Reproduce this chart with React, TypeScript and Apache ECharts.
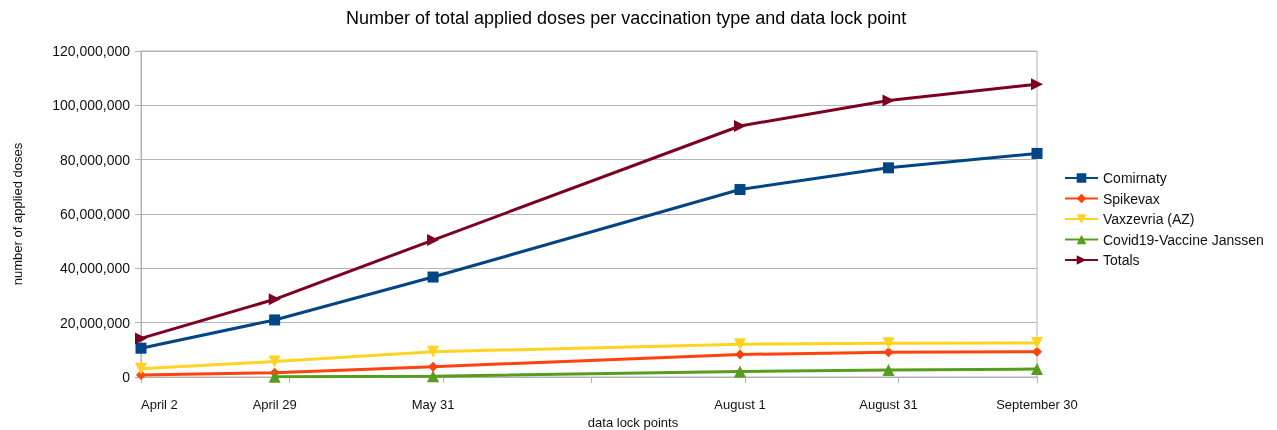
import React, { useEffect, useRef } from "react";
import * as echarts from "echarts";

const dates = ["2021-04-02", "2021-04-29", "2021-05-31", "2021-08-01", "2021-08-31", "2021-09-30"];
const dateLabels = ["April 2", "April 29", "May 31", "August 1", "August 31", "September 30"];
const tickDates = ["2021-04-02", "2021-05-02", "2021-06-02", "2021-07-02", "2021-08-02", "2021-09-02", "2021-09-30"];

const comirnaty = [10600000, 21000000, 36800000, 69000000, 77000000, 82300000];
const spikevax = [700000, 1600000, 3800000, 8300000, 9100000, 9300000];
const vaxzevria = [3000000, 5700000, 9300000, 12100000, 12400000, 12500000];
const janssen = [null, 50000, 300000, 2000000, 2600000, 2900000];
const totals = [14200000, 28600000, 50400000, 92400000, 101800000, 107800000];

const yTicks = [0, 20000000, 40000000, 60000000, 80000000, 100000000, 120000000];

const DAY = 86400000;
const t0 = Date.parse(dates[0]);
const dayOf = (d: string) => Math.round((Date.parse(d) - t0) / DAY);
const xDays = dates.map(dayOf);
const tickDays = tickDates.map(dayOf);

const pairs = (vals: (number | null)[]) =>
  vals.map((v, i) => (v == null ? null : [xDays[i], v])).filter((p) => p !== null);

const FONT = "Liberation Sans";

export default function App() {
  const ref = useRef<HTMLDivElement>(null);
  useEffect(() => {
    document.body.style.margin = "0";
    const chart = echarts.init(ref.current!, null, { renderer: "svg" });
    const mk = (name: string, vals: (number | null)[], color: string, symbol: string, size: number, rotate = 0) => ({
      name,
      type: "line",
      data: pairs(vals),
      symbol,
      symbolSize: size,
      symbolRotate: rotate,
      showAllSymbol: true,
      lineStyle: { color, width: 3 },
      itemStyle: { color },
      emphasis: { disabled: true },
    });
    chart.setOption({
      animation: false,
      textStyle: { fontFamily: FONT },
      title: {
        text: "Number of total applied doses per vaccination type and data lock point",
        left: 341,
        top: 4,
        textStyle: { fontFamily: FONT, fontSize: 18, fontWeight: "normal", color: "#000" },
      },
      legend: {
        orient: "vertical",
        left: 1059,
        top: 166,
        itemWidth: 33,
        itemHeight: 12,
        itemGap: 6.5,
        textStyle: { fontFamily: FONT, fontSize: 14, color: "#111" },
        data: ["Comirnaty", "Spikevax", "Vaxzevria (AZ)", "Covid19-Vaccine Janssen", "Totals"],
      },
      grid: {
        left: 141,
        right: 240,
        top: 51,
        bottom: 53,
        containLabel: false,
        outerBoundsMode: "none",
        show: true,
        borderColor: "#b3b3b3",
        borderWidth: 1,
      },
      xAxis: {
        type: "value",
        min: 0,
        max: xDays[xDays.length - 1],
        name: "data lock points",
        nameLocation: "middle",
        nameGap: 35,
        nameTextStyle: { fontFamily: FONT, fontSize: 13, color: "#111", padding: [0, 0, 0, 88] },
        axisLine: { show: true, lineStyle: { color: "#b3b3b3", width: 1 } },
        axisTick: { show: true, customValues: tickDays, length: 6, lineStyle: { color: "#b3b3b3" } },
        axisLabel: {
          customValues: xDays,
          margin: 21,
          fontFamily: FONT,
          fontSize: 13,
          color: "#111",
          alignMinLabel: "left",
          formatter: (v: number) => {
            const i = xDays.indexOf(Math.round(v));
            return i >= 0 ? dateLabels[i] : "";
          },
        },
        splitLine: { show: false },
      },
      yAxis: {
        type: "value",
        min: yTicks[0],
        max: yTicks[yTicks.length - 1],
        interval: yTicks[1] - yTicks[0],
        name: "number of applied doses",
        nameLocation: "middle",
        nameGap: 117,
        nameTextStyle: { fontFamily: FONT, fontSize: 13, color: "#111" },
        axisLine: { show: true, lineStyle: { color: "#b3b3b3", width: 1 } },
        axisTick: { show: true, length: 6, lineStyle: { color: "#b3b3b3" } },
        axisLabel: {
          margin: 11,
          fontFamily: FONT,
          fontSize: 14,
          color: "#111",
          formatter: (v: number) => v.toLocaleString("en-US"),
        },
        splitLine: { show: true, lineStyle: { color: "#b3b3b3", width: 1 } },
      },
      series: [
        mk("Comirnaty", comirnaty, "#004586", "rect", 11),
        mk("Spikevax", spikevax, "#ff420e", "diamond", 10),
        mk("Vaxzevria (AZ)", vaxzevria, "#ffd320", "triangle", 12, 180),
        mk("Covid19-Vaccine Janssen", janssen, "#579d1c", "triangle", 12),
        mk("Totals", totals, "#7e0021", "triangle", 12, -90),
      ],
    });
    return () => chart.dispose();
  }, []);
  return <div ref={ref} style={{ position: "fixed", left: 0, top: 0, width: 1277, height: 430 }} />;
}
